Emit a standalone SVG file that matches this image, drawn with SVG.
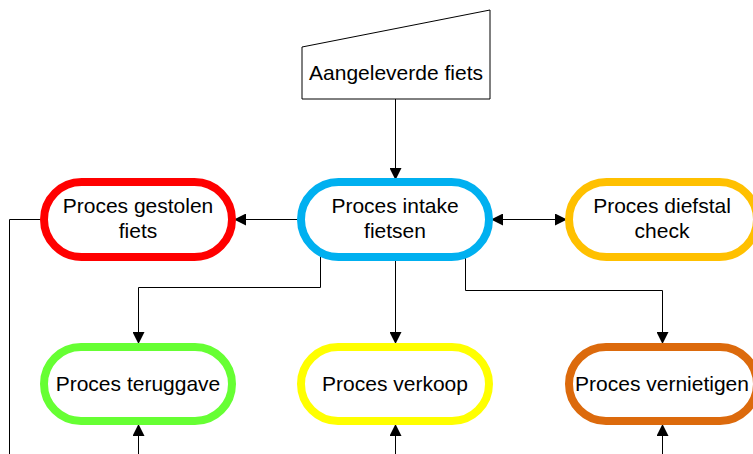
<svg xmlns="http://www.w3.org/2000/svg" width="753" height="454" viewBox="0 0 753 454">
<defs>
<marker id="ah" viewBox="0 0 12 12" refX="12" refY="6" markerWidth="12" markerHeight="12" markerUnits="userSpaceOnUse" orient="auto-start-reverse">
<path d="M0,0 L12,6 L0,12 z" fill="#000"/>
</marker>
<style>
.t{font-family:"Liberation Sans",Arial,sans-serif;font-size:21px;fill:#000;text-anchor:middle}
.n{fill:#fff;stroke-width:8}
.c{fill:none;stroke:#000;stroke-width:1}
</style>
</defs>
<rect width="753" height="454" fill="#fff"/>
<g id="connectors">
<path class="c" d="M395.5 99 V180" marker-end="url(#ah)"/>
<path class="c" d="M301 219.5 H234" marker-end="url(#ah)"/>
<path class="c" d="M491 219.5 H567" marker-start="url(#ah)" marker-end="url(#ah)"/>
<path class="c" d="M320.5 252 V287.5 H138.5 V344" marker-end="url(#ah)"/>
<path class="c" d="M395.5 261 V344" marker-end="url(#ah)"/>
<path class="c" d="M465.5 252 V290.5 H662.5 V344" marker-end="url(#ah)"/>
<path class="c" d="M138.5 454 V424" marker-end="url(#ah)"/>
<path class="c" d="M395.5 454 V424" marker-end="url(#ah)"/>
<path class="c" d="M662.5 454 V424" marker-end="url(#ah)" stroke="#555"/>
<path class="c" d="M42 219.5 H9.5 V454"/>
</g>
<g id="aangeleverde">
<polygon points="302,47 490,10 490,99 302,99" fill="#fff" stroke="#000" stroke-width="1"/>
<text class="t" x="396" y="80">Aangeleverde fiets</text>
</g>
<g id="gestolen">
<rect class="n" x="44" y="182" width="188" height="75" rx="37.5" stroke="#FF0000"/>
<text class="t" x="138" y="213">Proces gestolen</text>
<text class="t" x="138" y="238">fiets</text>
</g>
<g id="intake">
<rect class="n" x="301" y="182" width="188" height="75" rx="37.5" stroke="#00B0F0"/>
<text class="t" x="395" y="213">Proces intake</text>
<text class="t" x="395" y="238">fietsen</text>
</g>
<g id="diefstal">
<rect class="n" x="569" y="182" width="188" height="75" rx="37.5" stroke="#FFC000"/>
<text class="t" x="662" y="213">Proces diefstal</text>
<text class="t" x="662" y="238">check</text>
</g>
<g id="teruggave">
<rect class="n" x="44" y="347" width="188" height="74" rx="37" stroke="#66FF33"/>
<text class="t" x="138" y="391">Proces teruggave</text>
</g>
<g id="verkoop">
<rect class="n" x="301" y="347" width="188" height="74" rx="37" stroke="#FFFF00"/>
<text class="t" x="395" y="391">Proces verkoop</text>
</g>
<g id="vernietigen">
<rect class="n" x="569" y="347" width="188" height="74" rx="37" stroke="#DC6A0C"/>
<text class="t" x="662" y="391">Proces vernietigen</text>
</g>
</svg>
